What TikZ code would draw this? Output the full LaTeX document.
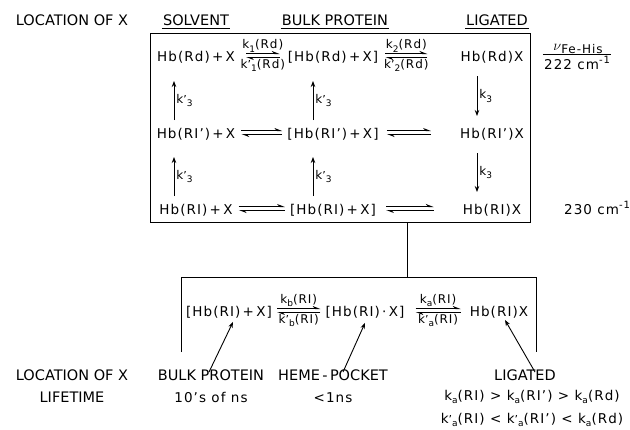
\documentclass[tikz,border=0pt]{standalone}
\usepackage{fontspec}
\setmainfont{DejaVu Sans}
\newfontfamily\spfont[LetterSpace=8]{DejaVu Sans}
\usetikzlibrary{arrows.meta,calc}

% small lowered pieces for rate constants
\newcommand{\lo}[1]{\raisebox{-0.5ex}{\fontsize{9}{9}\selectfont #1}}
\newcommand{\kp}[1]{k{\fontsize{11}{11}\selectfont ’}\lo{#1}}
\newcommand{\kk}[1]{k\lo{#1}}

% a pair of opposed half arrows between two species, with rate labels
\newcommand{\eqpairlab}[6]{%
  \draw[fwd] ([shift={(#3,-7.5)}]#1.base east) -- ([shift={(-#4,-7.5)}]#2.base west)
    node[midway, above=0pt, rate] {#5};
  \draw[fwd] ([shift={(-#4,-3.5)}]#2.base west) -- ([shift={(#3,-3.5)}]#1.base east)
    node[midway, below=0.5pt, rate] {#6};}
% the same pair without labels
\newcommand{\eqpair}[4]{%
  \draw[fwd] ([shift={(#3,-7.5)}]#1.base east) -- ([shift={(-#4,-7.5)}]#2.base west);
  \draw[fwd] ([shift={(-#4,-3.5)}]#2.base west) -- ([shift={(#3,-3.5)}]#1.base east);}

\begin{document}
\begin{tikzpicture}[x=1pt, y=-1pt,
  font=\fontsize{14.5}{16}\selectfont,
  every node/.style={inner sep=1pt},
  sp/.style={anchor=base, font=\spfont\fontsize{13.5}{15}\selectfont},
  ttl/.style={anchor=base},
  rate/.style={font=\spfont\fontsize{12}{13}\selectfont, inner sep=1pt},
  fwd/.style={-{Stealth[harpoon, length=6.5pt, width=5pt]}, line width=1pt},
  vup/.style={-{Stealth[length=6pt, width=4.5pt]}, line width=0.9pt},
  frame/.style={line width=1pt}]
\useasboundingbox (0,0) rectangle (630,429);

% column headings
\node[ttl] (loc) at (72,25) {LOCATION OF X};
\node[ttl] (solv) at (196,25) {SOLVENT};
\node[ttl] (bulk) at (335,25) {BULK PROTEIN};
\node[ttl] (lig) at (497,25) {LIGATED};
\foreach \h in {solv,bulk,lig}
  \draw[frame] ([yshift=-2pt]\h.south west) -- ([yshift=-2pt]\h.south east);

% upper frame
\node[draw, frame, minimum width=380pt, minimum height=189pt, inner sep=0pt] (tbox) at (340,127.5) {};

% species, three rows
\node[sp] (a1) at (196,61) {Hb(Rd)\,+\,X};
\node[sp] (b1) at (333,61) {[Hb(Rd)\,+\,X]};
\node[sp] (c1) at (492,61) {Hb(Rd)X};
\node[sp] (a2) at (196,138) {Hb(RI’)\,+\,X};
\node[sp] (b2) at (333,138) {[Hb(RI’)\,+\,X]};
\node[sp] (c2) at (492,138) {Hb(RI’)X};
\node[sp] (a3) at (196,214) {Hb(RI)\,+\,X};
\node[sp] (b3) at (333,214) {[Hb(RI)\,+\,X]};
\node[sp] (c3) at (492,214) {Hb(RI)X};

\eqpairlab{a1}{b1}{10}{7}{\kk{1}(Rd)}{\kp{1}(Rd)}
\eqpairlab{b1}{c1}{6}{32}{\kk{2}(Rd)}{\kp{2}(Rd)}
\eqpair{a2}{b2}{5}{4}
\eqpair{b2}{c2}{7}{28}
\eqpair{a3}{b3}{5}{4}
\eqpair{b3}{c3}{9}{28}

% conversions between the rows
\draw[vup] ([shift={(-22,-18)}]a2.base) -- ([shift={(-22,20)}]a1.base) node[midway, right=1pt, rate] {\kp{3}};
\draw[vup] ([shift={(-22,-18)}]a3.base) -- ([shift={(-22,19)}]a2.base) node[midway, right=1pt, rate] {\kp{3}};
\draw[vup] ([shift={(-20,-18)}]b2.base) -- ([shift={(-20,20)}]b1.base) node[midway, right=1pt, rate] {\kp{3}};
\draw[vup] ([shift={(-20,-18)}]b3.base) -- ([shift={(-20,19)}]b2.base) node[midway, right=1pt, rate] {\kp{3}};
\draw[vup] ([shift={(-15,15)}]c1.base) -- ([shift={(-15,-22)}]c2.base) node[midway, right=1pt, rate] {\kk{3}};
\draw[vup] ([shift={(-15,15)}]c2.base) -- ([shift={(-15,-22)}]c3.base) node[midway, right=1pt, rate] {\kk{3}};

% Fe-His stretching frequencies
\node[anchor=base] (nu) at (578,50) {$\nu$\lo{\spfont\fontsize{12}{12}\selectfont Fe-His}};
\node[anchor=base, font=\spfont\fontsize{13.5}{15}\selectfont] (f222) at (577,69) {222 cm\raisebox{0.7ex}{\fontsize{10}{10}\selectfont -1}};
\draw[frame] ([yshift=0.5pt]f222.north west) -- ([yshift=0.5pt]f222.north east);
\node[anchor=base, font=\spfont\fontsize{13.5}{15}\selectfont] (f230) at (597,214) {230 cm\raisebox{0.7ex}{\fontsize{10}{10}\selectfont -1}};

% lower frame, open at the bottom
\node[minimum width=354pt, minimum height=74pt, inner sep=0pt] (bbox) at (359,315) {};
\draw[frame] (bbox.south west) -- (bbox.north west) -- (bbox.north east) -- (bbox.south east);
\coordinate (tap) at ($(tbox.south west)!0.676!(tbox.south east)$);
\draw[frame] (tap) -- (tap |- bbox.north);

\node[sp] (d1) at (229,316) {[Hb(RI)\,+\,X]};
\node[sp] (d2) at (365,316) {[Hb(RI)\,·\,X]};
\node[sp] (d3) at (499,316) {Hb(RI)X};
\eqpairlab{d1}{d2}{4}{4}{\kk{b}(RI)}{\kp{b}(RI)}
\eqpairlab{d2}{d3}{10}{8}{\kk{a}(RI)}{\kp{a}(RI)}

% captions below
\node[ttl] (loc2) at (72,380) {LOCATION OF X};
\node[ttl] (life) at (72,402) {LIFETIME};
\node[ttl] (bp) at (211,380) {BULK PROTEIN};
\node[sp] (bpt) at (211,402) {10’s of ns};
\node[ttl] (hp) at (333,380) {HEME\,-\,POCKET};
\node[sp] (hpt) at (333,402) {<1ns};
\node[ttl] (lg) at (525,380) {LIGATED};
\node[sp] (r1) at (532,400) {\kk{a}(RI) > \kk{a}(RI’) > \kk{a}(Rd)};
\node[sp] (r2) at (532,423) {\kp{a}(RI) < \kp{a}(RI’) < \kk{a}(Rd)};

\draw[vup] ([shift={(-2,4)}]bp.north) -- ([shift={(4,3)}]d1.south);
\draw[vup] ([shift={(10,4)}]hp.north) -- ([shift={(0,4)}]d2.south);
\draw[vup] ([shift={(10,4)}]lg.north) -- ([shift={(6,1)}]d3.south);
\end{tikzpicture}
\end{document}
